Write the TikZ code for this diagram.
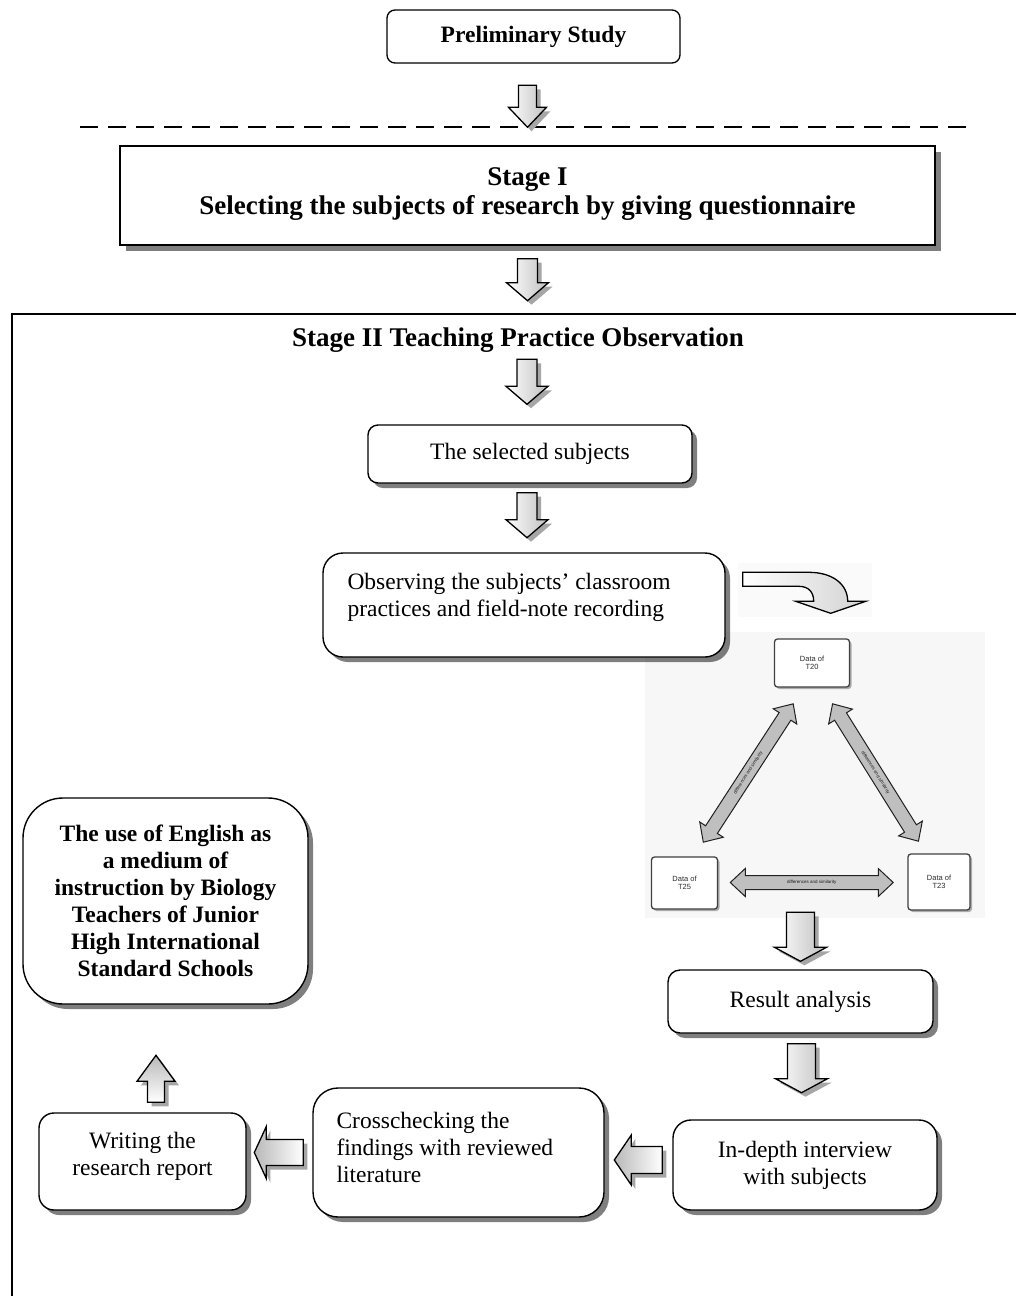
\documentclass[tikz,border=0pt]{standalone}
\usepackage{fontspec}
\setmainfont{Liberation Serif}
\setsansfont{Liberation Sans}
\usetikzlibrary{calc,shadows}
\newcommand\bodysize{\fontsize{23.5}{27}\selectfont}
\newcommand\headsize{\fontsize{27}{29}\selectfont}

\tikzset{
  x=1pt, y=-1pt,
  shade box/.style={drop shadow={shadow xshift=5pt, shadow yshift=-5pt, fill=black, opacity=0.5}},
  roundbox/.style={draw, line width=1.4pt, fill=white, rounded corners=#1, inner sep=0pt,
    align=center, font=\bodysize, shade box},
  roundbox/.default=12pt,
  datbox/.style={draw=gray!50!black, line width=1.3pt, fill=white, rounded corners=3pt,
    inner sep=0pt, align=center, font=\fontsize{7.5}{8.5}\selectfont\sffamily, text=gray!35!black,
    drop shadow={shadow xshift=2pt, shadow yshift=-2pt, fill=black, opacity=0.3}},
  arrline/.style={line width=1.3pt, line join=miter},
  arrshadow/.style={preaction={fill=gray!70, transform canvas={xshift=4pt, yshift=-4pt}}},
  % block arrows: #1 length, #2 shaft width, #3 head width, #4 head length
  pics/downarr/.style n args={4}{code={
    \draw[arrline, arrshadow, left color=white, right color=gray!50]
      ({-#2/2},{-#1/2}) -- ({#2/2},{-#1/2}) -- ({#2/2},{#1/2-#4}) -- ({#3/2},{#1/2-#4})
      -- (0,{#1/2}) -- ({-#3/2},{#1/2-#4}) -- ({-#2/2},{#1/2-#4}) -- cycle;
  }},
  pics/leftarr/.style n args={4}{code={
    \draw[arrline, arrshadow, left color=gray!55, right color=white]
      ({#1/2},{-#2/2}) -- ({-#1/2+#4},{-#2/2}) -- ({-#1/2+#4},{-#3/2}) -- ({-#1/2},0)
      -- ({-#1/2+#4},{#3/2}) -- ({-#1/2+#4},{#2/2}) -- ({#1/2},{#2/2}) -- cycle;
  }},
  pics/uparr/.style n args={4}{code={
    \draw[arrline, arrshadow, top color=gray!55, bottom color=white]
      ({-#2/2},{#1/2}) -- ({-#2/2},{-#1/2+#4}) -- ({-#3/2},{-#1/2+#4}) -- (0,{-#1/2})
      -- ({#3/2},{-#1/2+#4}) -- ({#2/2},{-#1/2+#4}) -- ({#2/2},{#1/2}) -- cycle;
  }},
  pics/dblarr/.style n args={4}{code={
    \draw[line width=1pt, draw=gray!25!black, fill=gray!50]
      ({-#1/2},0) -- ({-#1/2+#4},{-#3/2}) -- ({-#1/2+#4},{-#2/2}) -- ({#1/2-#4},{-#2/2})
      -- ({#1/2-#4},{-#3/2}) -- ({#1/2},0) -- ({#1/2-#4},{#3/2}) -- ({#1/2-#4},{#2/2})
      -- ({-#1/2+#4},{#2/2}) -- ({-#1/2+#4},{#3/2}) -- cycle;
    \node[transform shape, inner sep=0pt, font=\fontsize{4.5}{4.5}\selectfont\sffamily, text=gray!20!black] (lbl)
      {differences and similarity};
  }},
}

\begin{document}
\begin{tikzpicture}
\useasboundingbox (0,0) rectangle (1016,1296);

% preliminary study and separator
\node[draw, line width=1.3pt, rounded corners=8pt, minimum width=293pt, minimum height=53pt,
  inner sep=0pt, font=\bodysize\bfseries] (prelim) at (533.5,36.5) {Preliminary Study};
\draw[line width=1.3pt, dash pattern=on 18pt off 10pt] (80,127) -- (975,127);

% stage I
\node[draw, line width=1.4pt, fill=white, minimum width=815pt, minimum height=99pt, inner sep=0pt,
  drop shadow={shadow xshift=6pt, shadow yshift=-6pt, fill=black, opacity=0.5}]
  (stage1) at (527.5,195.5) {};
\node[inner sep=0pt, align=center, font=\headsize\bfseries] (stage1text) at ($(stage1)+(0,-1)$)
  {Stage I\\Selecting the subjects of research by giving questionnaire};

\pic at ($(stage1.north)+(0,-39)$) {downarr={42}{18}{38}{20}};
\pic at ($(stage1.south)+(0,34)$) {downarr={42}{20}{42}{18}};

% stage II frame
\draw[line width=1.3pt] (12,1296) -- (12,314) -- (1016,314);
\node[font=\headsize\bfseries, inner sep=0pt] (stage2) at (518,340) {Stage II Teaching Practice Observation};

\node[roundbox=10pt, minimum width=324pt, minimum height=58pt] (sel) at (530,454) {The selected subjects};
\pic at ($(sel.north)+(-3,-42.5)$) {downarr={45}{20}{42}{18}};
\pic at ($(sel.south)+(-3,31.5)$) {downarr={45}{20}{42}{18}};

% triangulation panel
\fill[black!3] (645,632) rectangle (985,918);
\fill[black!2] (738,563) rectangle (872,617);

\node[roundbox=20pt, minimum width=402pt, minimum height=104pt] (obs) at (524,605) {};
\node[anchor=north west, inner sep=0pt, align=left, font=\bodysize] (obstext)
  at ($(obs.north west)+(25,21)$) {Observing the subjects' classroom\\practices and field-note recording};

% curved arrow towards the data panel
\begin{scope}[shift={(obs.north east)}]
  \draw[arrline, left color=white, right color=gray!35]
    (17,20) -- (83,20) .. controls (107,20) and (122,32) .. (122,49) -- (140,49) -- (105,61)
    -- (70,49) -- (88,49) .. controls (88,40) and (83,34) .. (73,34) -- (17,34) -- cycle;
\end{scope}

\node[datbox, minimum width=75pt, minimum height=48pt] (t20) at (812,663) {Data of\\T20};
\node[datbox, minimum width=66pt, minimum height=52pt] (t25) at (684.5,883) {Data of\\T25};
\node[datbox, minimum width=62pt, minimum height=56pt] (t23) at (939,882) {Data of\\T23};
\pic[rotate=57] at ($(t25)!0.5!(t20)$) {dblarr={165}{14}{28}{15}};
\pic[rotate=-58] at ($(t20)!0.5!(t23)$) {dblarr={162}{14}{28}{15}};
\pic at ($(t25)!0.5!(t23)$) {dblarr={163}{14}{28}{15}};

% analysis and reporting
\node[roundbox=12pt, minimum width=265pt, minimum height=63pt] (result) at (800.5,1001.5) {Result analysis};
\pic at ($(result.north)+(0,-32.5)$) {downarr={49}{28}{52}{14}};
\pic at ($(result.south)+(1,34.5)$) {downarr={49}{28}{52}{14}};

\node[roundbox=18pt, minimum width=264pt, minimum height=90pt] (indepth) at (805,1165)
  {In-depth interview\\with subjects};

\node[roundbox=25pt, minimum width=291pt, minimum height=129pt] (cross) at (458.5,1152.5) {};
\node[anchor=north west, inner sep=0pt, align=left, font=\bodysize] (crosstext)
  at ($(cross.north west)+(24,25)$) {Crosschecking the\\findings with reviewed\\literature};
\pic at ($(indepth.west)+(-34,-5)$) {leftarr={48}{27}{50}{17}};

\node[roundbox=15pt, minimum width=207pt, minimum height=97pt] (write) at (142.5,1161.5) {};
\node[inner sep=0pt, align=center, font=\bodysize] (writetext) at ($(write)+(0,-5)$)
  {Writing the\\research report};
\pic at ($(cross.west)+(-33.5,0)$) {leftarr={49}{26}{52}{12}};

\node[roundbox=40pt, minimum width=285pt, minimum height=206pt, font=\bodysize\bfseries] (goal)
  at (165.5,901) {The use of English as\\a medium of\\instruction by Biology\\Teachers of Junior\\High International\\Standard Schools};
\pic at ($(write.north)+(13.5,-33.5)$) {uparr={47}{17}{38}{26}};
\end{tikzpicture}
\end{document}
